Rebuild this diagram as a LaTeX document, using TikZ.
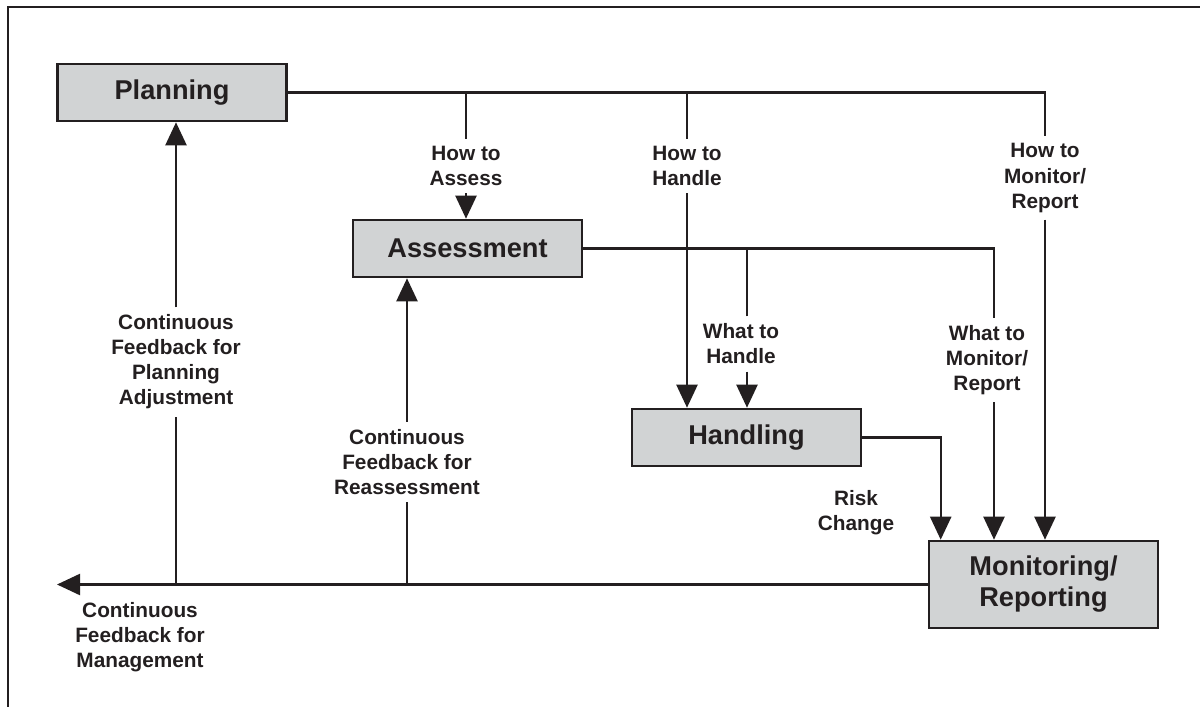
\documentclass[tikz,border=0pt]{standalone}
\usepackage{fontspec}
\setmainfont{Liberation Sans}
\usepackage{xcolor}
\usepackage{tikz}
\usetikzlibrary{arrows.meta,positioning,calc}
\definecolor{ink}{RGB}{35,31,32}
\definecolor{boxgray}{RGB}{209,211,212}

\begin{document}
\begin{tikzpicture}[x=0.5pt,y=-0.5pt,
    box/.style={draw=ink,line width=1.3pt,fill=boxgray,minimum width=114.5pt,minimum height=28.5pt,inner sep=0pt,align=center,text=ink,font=\fontsize{13.6}{15.5}\selectfont\bfseries},
    lbl/.style={align=center,inner sep=3.5pt,text=ink,font=\fontsize{10.4}{12.5}\selectfont\bfseries},
    line/.style={draw=ink,line width=1.15pt},
    arr/.style={line,-{Triangle[length=11.5pt,width=10.5pt]}}]
    \useasboundingbox (0,0) rectangle (1200,707);
    % Frame
    \draw[ink,line width=1.1pt] (1200,7) -- (8,7) -- (8,707);

    % Process boxes
    \node[box] (plan) at (172,92.5) {Planning};
    \node[box] (assess) at (467.5,248.5) {Assessment};
    \node[box] (handle) at (746.5,437.5) {Handling};
    \node[box,minimum height=43.5pt] (monitor) at (1043.5,584.5) {Monitoring/\\Reporting};

    % Labels
    \node[lbl] (howass) at (466,166) {How to\\Assess};
    \node[lbl] (howhan) at (687,166) {How to\\Handle};
    \node[lbl] (howmon) at (1045,178) {How to\\Monitor/\\Report};
    \node[lbl] (whathan) at (741,344) {What to\\Handle};
    \node[lbl] (whatmon) at (987,360) {What to\\Monitor/\\Report};
    \node[lbl] (risk) at (856,513) {Risk\\Change};
    \node[lbl] (fbplan) at (176,362) {Continuous\\Feedback for\\Planning\\Adjustment};
    \node[lbl] (fbreass) at (407,462) {Continuous\\Feedback for\\Reassessment};
    \node[lbl] (fbmgmt) at (140,637) {Continuous\\Feedback for\\Management};

    % Planning outputs
    \draw[line] (plan.east) -| (howmon.north);
    \draw[line] (howass.north) -- (howass.north |- plan.east);
    \draw[line] (howhan.north) -- (howhan.north |- plan.east);
    \draw[arr] (howass.south) -- (howass.south |- assess.north);
    \draw[arr] (howhan.south) -- (howhan.south |- handle.north);
    \draw[arr] (howmon.south) -- (howmon.south |- monitor.north);

    % Assessment outputs
    \coordinate (whx) at ([xshift=3pt]whathan.center);
    \coordinate (wmx) at ([xshift=3.5pt]whatmon.center);
    \draw[line] (assess.east) -| (wmx |- whatmon.north);
    \draw[line] (whx |- whathan.north) -- (whx |- assess.east);
    \draw[arr] (whx |- whathan.south) -- (whx |- handle.north);
    \draw[arr] (wmx |- whatmon.south) -- (wmx |- monitor.north);

    % Risk change
    \draw[arr] (handle.east) -| ([xshift=6.5pt]monitor.north west);

    % Feedback
    \coordinate (fbtip) at (57,586);
    \draw[arr] (monitor.west) -- (fbtip |- monitor.west);
    \draw[line] (fbplan |- monitor.west) -- (fbplan.south);
    \draw[arr] (fbplan.north) -- (fbplan.north |- plan.south);
    \draw[line] (fbreass |- monitor.west) -- (fbreass.south);
    \draw[arr] (fbreass.north) -- (fbreass.north |- assess.south);
\end{tikzpicture}
\end{document}
